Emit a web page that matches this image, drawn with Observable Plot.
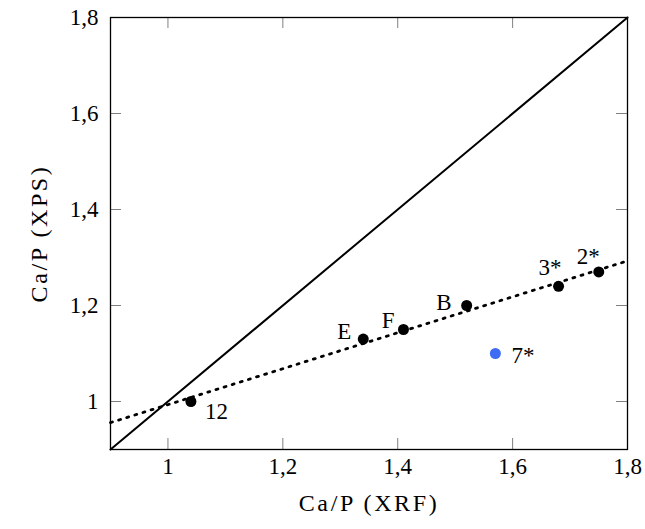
<!DOCTYPE html>
<html>
<head>
<meta charset="utf-8">
<script src="https://cdn.jsdelivr.net/npm/d3@7"></script>
<script src="https://cdn.jsdelivr.net/npm/@observablehq/plot@0.6"></script>
<style>
  html, body { margin: 0; padding: 0; background: #fff; }
  #chart svg { display: block; }
</style>
</head>
<body>
<div id="chart"></div>
<script>
// Data
const samples = ["12", "E", "F", "B", "3*", "2*"];
const xrf = [1.04, 1.34, 1.41, 1.52, 1.68, 1.75];
const xps = [1.00, 1.13, 1.15, 1.20, 1.24, 1.27];

const outlierLabel = ["7*"];
const outlierXrf = [1.57];
const outlierXps = [1.10];

// identity line y = x and fitted (dotted) line endpoints
const diagX = [0.9, 1.8];
const diagY = [0.9, 1.8];
const fitX = [0.9, 1.8];
const fitY = [0.956, 1.293];

const tickValues = [1, 1.2, 1.4, 1.6, 1.8];
const xTitle = "Ca/P (XRF)";
const yTitle = "Ca/P (XPS)";

const pts = samples.map((s, i) => ({label: s, x: xrf[i], y: xps[i]}));
const out = outlierLabel.map((s, i) => ({label: s, x: outlierXrf[i], y: outlierXps[i]}));
const diag = diagX.map((x, i) => ({x, y: diagY[i]}));
const fit = fitX.map((x, i) => ({x, y: fitY[i]}));

// label placement (style, not data)
const place = {
  "12": {anchor: "start", dx: 14, dy: 10},
  "E":  {anchor: "end", dx: -12, dy: -7},
  "F":  {anchor: "end", dx: -9, dy: -9},
  "B":  {anchor: "end", dx: -15, dy: -3},
  "3*": {anchor: "end", dx: 3, dy: -19},
  "2*": {anchor: "end", dx: 1, dy: -15},
  "7*": {anchor: "start", dx: 16, dy: 2}
};

const fmt = d => String(d).replace(".", ",");
const FONT = "'Liberation Serif', 'DejaVu Serif', serif";
const FS = 23;

const labelMarks = [...pts, ...out].map(d =>
  Plot.text([d], {x: "x", y: "y", text: "label", textAnchor: place[d.label].anchor,
    dx: place[d.label].dx, dy: place[d.label].dy, fill: "black", fontSize: FS})
);

const chart = Plot.plot({
  width: 645,
  height: 529,
  marginLeft: 110,
  marginRight: 18,
  marginTop: 17,
  marginBottom: 80,
  x: {domain: [0.9, 1.8]},
  y: {domain: [0.9, 1.8]},
  marks: [
    Plot.axisX(tickValues, {anchor: "bottom", tickSize: 0, tickPadding: 8, tickFormat: fmt, fontSize: FS,
      label: null}),
    Plot.axisY(tickValues, {anchor: "left", tickSize: 0, tickPadding: 12, tickFormat: fmt, fontSize: FS,
      label: null}),
    Plot.axisX({anchor: "bottom", ticks: [], tickSize: 0, label: xTitle, labelAnchor: "center",
      labelArrow: "none", labelOffset: 61, fontSize: FS}),
    Plot.axisY({anchor: "left", ticks: [], tickSize: 0, label: yTitle, labelAnchor: "center",
      labelArrow: "none", labelOffset: 81, fontSize: FS}),
    Plot.tickX(tickValues, {x: d => d, insetTop: 421, stroke: "#808080", strokeWidth: 1}),
    Plot.tickX(tickValues, {x: d => d, insetBottom: 421, stroke: "#808080", strokeWidth: 1}),
    Plot.tickY(tickValues, {y: d => d, insetRight: 506, stroke: "#808080", strokeWidth: 1}),
    Plot.tickY(tickValues, {y: d => d, insetLeft: 506, stroke: "#808080", strokeWidth: 1}),
    Plot.line(diag, {x: "x", y: "y", stroke: "black", strokeWidth: 2}),
    Plot.line(fit, {x: "x", y: "y", stroke: "black", strokeWidth: 2.8, strokeDasharray: "2,6.5"}),
    Plot.dot(pts, {x: "x", y: "y", r: 5.5, fill: "black"}),
    Plot.dot(out, {x: "x", y: "y", r: 5.5, fill: "#3e6cf2"}),
    ...labelMarks,
    Plot.frame({stroke: "black", strokeWidth: 1.3})
  ]
});

chart.setAttribute("font-family", FONT);
chart.style.fontFamily = FONT;
chart.querySelectorAll("text").forEach(el => {
  el.setAttribute("font-family", FONT);
  el.setAttribute("font-size", String(FS));
  const t = el.textContent;
  if (t === xTitle || t === yTitle) {
    // wider spacing to approximate the broader original typeface
    el.setAttribute("letter-spacing", "2.6");
    el.style.letterSpacing = "2.6px";
    el.setAttribute("font-size", "24");
  }
});

document.getElementById("chart").appendChild(chart);
</script>
</body>
</html>
